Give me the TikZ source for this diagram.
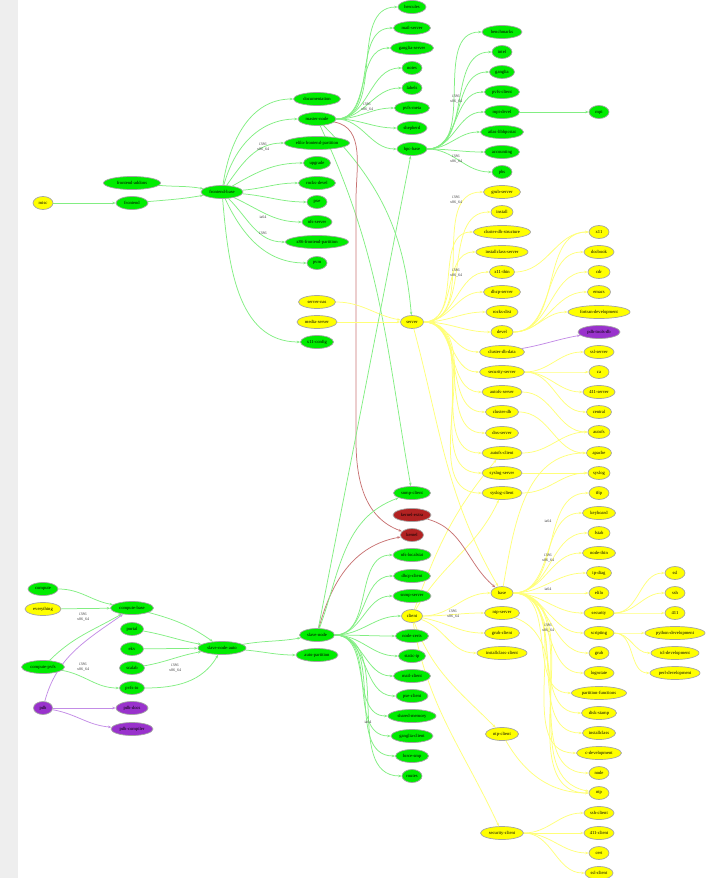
\documentclass[tikz,border=0pt]{standalone}
\usepackage{fontspec}
\setmainfont{Liberation Serif}
\usetikzlibrary{shapes.geometric,arrows.meta,backgrounds}
\definecolor{ngreen}{RGB}{0,236,0}
\definecolor{nyellow}{RGB}{255,255,0}
\definecolor{npurple}{RGB}{153,50,204}
\definecolor{nred}{RGB}{178,34,34}
\definecolor{egreen}{RGB}{130,238,130}
\definecolor{eyellow}{RGB}{255,255,120}
\definecolor{epurple}{RGB}{195,140,230}
\definecolor{ered}{RGB}{200,115,115}
\definecolor{nborder}{RGB}{165,165,165}
\definecolor{strip}{RGB}{238,238,238}
\tikzset{
 nd/.style={ellipse, draw=nborder, line width=0.7pt, minimum height=13pt, minimum width=20pt, inner sep=0pt, font=\fontsize{4.6}{5}\selectfont},
 gn/.style={nd, fill=ngreen}, yn/.style={nd, fill=nyellow}, pn/.style={nd, fill=npurple}, rn/.style={nd, fill=nred},
 mw/.style={minimum width=#1pt},
 ed/.style={line width=0.75pt, -{Stealth[length=3.4pt,width=2.6pt]}},
 ge/.style={ed, draw=egreen}, ye/.style={ed, draw=eyellow},
 pe/.style={ed, draw=epurple}, re/.style={ed, draw=ered},
 lbl/.style={font=\fontsize{4}{4.4}\selectfont, align=center, text=black!75, inner sep=0pt},
}
\begin{document}
\begin{tikzpicture}[x=1pt,y=-1pt]
\useasboundingbox (0,0) rectangle (709,878);
% ---------- left ----------
\node[yn,mw=20] (misc) at (43,203) {misc};
\node[gn,mw=57] (frontend-addons) at (132,183) {frontend-addons};
\node[gn,mw=32] (frontend) at (132,203) {frontend};
\node[gn,mw=42] (frontend-base) at (222,192) {frontend-base};
\node[gn,mw=47] (documentation) at (317,99) {documentation};
\node[gn,mw=38] (master-node) at (317,119) {master-node};
\node[gn,mw=65] (elilo-fp) at (317,143) {elilo-frontend-partition};
\node[gn,mw=27] (upgrade) at (317,163) {upgrade};
\node[gn,mw=37] (rocks-devel) at (317,183) {rocks-devel};
\node[gn,mw=20] (pxe) at (317,202) {pxe};
\node[gn,mw=30] (nfs-server) at (317,222) {nfs-server};
\node[gn,mw=63] (x86-fp) at (317,242) {x86-frontend-partition};
\node[gn,mw=20] (pvm) at (317,263) {pvm};
\node[yn,mw=37] (server-nas) at (317,302) {server-nas};
\node[yn,mw=40] (media-server) at (317,322) {media-server};
\node[gn,mw=33] (x11-config) at (317,342) {x11-config};
% master-node column
\node[gn,mw=28] (hercules) at (412,7) {hercules};
\node[gn,mw=37] (mail-server) at (412,28) {mail-server};
\node[gn,mw=43] (ganglia-server) at (412,48) {ganglia-server};
\node[gn,mw=20] (notes) at (412,68) {notes};
\node[gn,mw=20] (labels) at (412,88) {labels};
\node[gn,mw=35] (pvfs-meta) at (412,108) {pvfs-meta};
\node[gn,mw=30] (shepherd) at (412,128) {shepherd};
\node[gn,mw=30] (hpc-base) at (412,149) {hpc-base};
\node[yn,mw=23] (server) at (412,322) {server};
% hpc-base column
\node[gn,mw=40] (benchmarks) at (502,32) {benchmarks};
\node[gn,mw=20] (intel) at (502,52) {intel};
\node[gn,mw=25] (ganglia) at (502,72) {ganglia};
\node[gn,mw=35] (pvfs-client) at (502,92) {pvfs-client};
\node[gn,mw=35] (mpi-devel) at (502,112) {mpi-devel};
\node[gn,mw=43] (atlas) at (502,132) {atlas-libhpcstat};
\node[gn,mw=35] (accounting) at (502,152) {accounting};
\node[gn,mw=20] (pbs) at (502,172) {pbs};
\node[gn,mw=20] (mpi) at (599,112) {mpi};
% server column
\node[yn,mw=37] (grub-server) at (502,192) {grub-server};
\node[yn,mw=22] (install) at (502,212) {install};
\node[yn,mw=57] (cluster-db-structure) at (502,232) {cluster-db-structure};
\node[yn,mw=52] (installclass-server) at (502,252) {installclass-server};
\node[yn,mw=25] (x11-thin) at (502,272) {x11-thin};
\node[yn,mw=37] (dhcp-server) at (502,292) {dhcp-server};
\node[yn,mw=32] (rocks-dist) at (502,312) {rocks-dist};
\node[yn,mw=22] (devel) at (502,332) {devel};
\node[yn,mw=45] (cluster-db-data) at (502,352) {cluster-db-data};
\node[yn,mw=45] (security-server) at (502,372) {security-server};
\node[yn,mw=40] (autofs-server) at (502,392) {autofs-server};
\node[yn,mw=33] (cluster-db) at (502,412) {cluster-db};
\node[yn,mw=33] (dns-server) at (502,433) {dns-server};
\node[yn,mw=40] (autofs-client) at (502,453) {autofs-client};
\node[yn,mw=40] (syslog-server) at (502,473) {syslog-server};
\node[yn,mw=40] (syslog-client) at (502,493) {syslog-client};
\node[yn,mw=22] (base) at (502,593) {base};
\node[yn,mw=35] (ntp-server) at (502,613) {ntp-server};
\node[yn,mw=35] (grub-client) at (502,633) {grub-client};
\node[yn,mw=50] (installclass-client) at (502,653) {installclass-client};
\node[yn,mw=33] (ntp-client) at (502,734) {ntp-client};
\node[yn,mw=43] (security-client) at (502,833) {security-client};
% right column
\node[yn,mw=20] (x11) at (599,232) {x11};
\node[yn,mw=30] (docbook) at (599,252) {docbook};
\node[yn,mw=22] (cdr) at (599,272) {cdr};
\node[yn,mw=23] (emacs) at (599,292) {emacs};
\node[yn,mw=62] (fortran-development) at (599,312) {fortran-development};
\node[pn,mw=42] (pdb-tools-db) at (599,332) {pdb-tools-db};
\node[yn,mw=30] (ssl-server) at (599,352) {ssl-server};
\node[yn,mw=20] (ca) at (599,372) {ca};
\node[yn,mw=32] (n411s) at (599,392) {411-server};
\node[yn,mw=25] (central) at (599,412) {central};
\node[yn,mw=22] (autofs) at (599,432) {autofs};
\node[yn,mw=25] (apache) at (599,453) {apache};
\node[yn,mw=22] (syslog) at (599,473) {syslog};
\node[yn,mw=20] (tftp) at (599,493) {tftp};
\node[yn,mw=33] (keyboard) at (599,513) {keyboard};
\node[yn,mw=22] (fstab) at (599,533) {fstab};
\node[yn,mw=33] (node-thin) at (599,553) {node-thin};
\node[yn,mw=25] (ip-diag) at (599,573) {ip-diag};
\node[yn,mw=20] (elilo) at (599,593) {elilo};
\node[yn,mw=30] (security) at (599,613) {security};
\node[yn,mw=30] (scripting) at (599,633) {scripting};
\node[yn,mw=20] (grub) at (599,653) {grub};
\node[yn,mw=30] (logrotate) at (599,673) {logrotate};
\node[yn,mw=55] (partition-functions) at (599,693) {partition-functions};
\node[yn,mw=35] (disk-stamp) at (599,713) {disk-stamp};
\node[yn,mw=33] (installclass) at (599,733) {installclass};
\node[yn,mw=45] (c-development) at (599,753) {c-development};
\node[yn,mw=20] (node) at (599,773) {node};
\node[yn,mw=20] (ntp) at (599,793) {ntp};
\node[yn,mw=30] (ssh-client) at (599,813) {ssh-client};
\node[yn,mw=30] (n411c) at (599,833) {411-client};
\node[yn,mw=20] (cert) at (599,853) {cert};
\node[yn,mw=28] (ssl-client) at (599,873) {ssl-client};
\node[yn,mw=20] (ssl) at (675,573) {ssl};
\node[yn,mw=20] (ssh) at (675,593) {ssh};
\node[yn,mw=20] (n411) at (675,613) {411};
\node[yn,mw=60] (python-development) at (675,633) {python-development};
\node[yn,mw=48] (tcl-development) at (675,653) {tcl-development};
\node[yn,mw=50] (perl-development) at (675,673) {perl-development};
% slave-node column
\node[gn,mw=37] (snmp-client) at (412,493) {snmp-client};
\node[rn,mw=38] (kernel-extra) at (412,515) {kernel-extra};
\node[rn,mw=23] (kernel) at (412,535) {kernel};
\node[gn,mw=38] (nfs-localstat) at (412,555) {nfs-localstat};
\node[gn,mw=37] (dhcp-client) at (412,576) {dhcp-client};
\node[gn,mw=38] (snmp-server) at (412,596) {snmp-server};
\node[yn,mw=21] (client) at (412,616) {client};
\node[gn,mw=33] (node-certs) at (412,636) {node-certs};
\node[gn,mw=27] (static-ip) at (412,656) {static-ip};
\node[gn,mw=37] (mail-client) at (412,676) {mail-client};
\node[gn,mw=32] (pxe-client) at (412,696) {pxe-client};
\node[gn,mw=48] (shared-memory) at (412,716) {shared-memory};
\node[gn,mw=42] (ganglia-client) at (412,736) {ganglia-client};
\node[gn,mw=33] (force-smp) at (412,756) {force-smp};
\node[gn,mw=20] (routes) at (412,776) {routes};
\node[gn,mw=35] (slave-node) at (317,635) {slave-node};
\node[gn,mw=42] (auto-partition) at (317,655) {auto-partition};
% bottom left
\node[gn,mw=30] (compute) at (43,589) {compute};
\node[yn,mw=36] (everything) at (43,609) {everything};
\node[gn,mw=43] (compute-base) at (132,608) {compute-base};
\node[gn,mw=23] (portal) at (132,629) {portal};
\node[gn,mw=23] (ekv) at (132,649) {ekv};
\node[gn,mw=25] (scalab) at (132,668) {scalab};
\node[gn,mw=25] (pvfs-io) at (132,688) {pvfs-io};
\node[gn,mw=43] (compute-pvfs) at (43,667) {compute-pvfs};
\node[pn,mw=19] (pdb) at (43,708) {pdb};
\node[pn,mw=32] (pdb-docs) at (132,708) {pdb-docs};
\node[pn,mw=42] (pdb-compiler) at (132,729) {pdb-compiler};
\node[gn,mw=48] (slave-node-auto) at (222,648) {slave-node-auto};
% edge labels
\node[lbl] (l1) at (263,147) {i386\\x86\_64};
\node[lbl] (l2) at (263,217) {ia64};
\node[lbl] (l3) at (263,233) {i386};
\node[lbl] (l4) at (367,107) {i386\\x86\_64};
\node[lbl] (l5) at (456,99) {i386\\x86\_64};
\node[lbl] (l6) at (456,159) {i386\\x86\_64};
\node[lbl] (l7) at (456,200) {i386\\x86\_64};
\node[lbl] (l8) at (456,273) {i386\\x86\_64};
\node[lbl] (l9) at (453,614) {i386\\x86\_64};
\node[lbl] (l10) at (368,722) {ia64};
\node[lbl] (l11) at (548,521) {ia64};
\node[lbl] (l12) at (548,558) {i386\\x86\_64};
\node[lbl] (l13) at (548,589) {ia64};
\node[lbl] (l14) at (548,628) {i386\\x86\_64};
\node[lbl] (l15) at (83,617) {i386\\x86\_64};
\node[lbl] (l16) at (83,667) {i386\\x86\_64};
\node[lbl] (l17) at (175,668) {i386\\x86\_64};
% ---------- edges ----------
\begin{scope}[on background layer]
\fill[strip] (0,0) rectangle (18,878);
\draw[ge] (misc) -- (frontend);
\draw[ge] (frontend-addons) to[out=-5,in=170] (frontend-base);
\draw[ge] (frontend) to[out=5,in=190] (frontend-base);
\draw[ge] (frontend-base) to[out=82,in=180] (documentation);
\draw[ge] (frontend-base) to[out=75,in=180] (master-node);
\draw[ge] (frontend-base) to[out=55,in=180] (elilo-fp);
\draw[ge] (frontend-base) to[out=30,in=180] (upgrade);
\draw[ge] (frontend-base) to[out=5,in=180] (rocks-devel);
\draw[ge] (frontend-base) to[out=-5,in=180] (pxe);
\draw[ge] (frontend-base) to[out=-25,in=180] (nfs-server);
\draw[ge] (frontend-base) to[out=-45,in=180] (x86-fp);
\draw[ge] (frontend-base) to[out=-65,in=180] (pvm);
\draw[ge] (frontend-base) to[out=-85,in=180] (x11-config);
\foreach \t in {hercules,mail-server,ganglia-server,notes,labels,pvfs-meta,shepherd,hpc-base}
  \draw[ge] (master-node) to[out=0,in=180] (\t);
\draw[ge] (master-node) to[out=-45,in=95] (server);
\draw[ge] (master-node) to[out=-65,in=100] (snmp-client);
\draw[re] (master-node) to[out=-10,in=90] (356,200) -- (356,440) to[out=-90,in=160] (kernel);
\foreach \t in {benchmarks,intel,ganglia,pvfs-client,mpi-devel,atlas,accounting,pbs}
  \draw[ge] (hpc-base) to[out=0,in=180] (\t);
\draw[ge] (mpi-devel) -- (mpi);
\draw[ye] (server-nas) to[out=0,in=170] (server);
\draw[ye] (media-server) -- (server);
\foreach \t in {grub-server,install,cluster-db-structure,installclass-server,x11-thin,dhcp-server,rocks-dist,devel,cluster-db-data,security-server,autofs-server,cluster-db,dns-server,autofs-client,syslog-server,syslog-client}
  \draw[ye] (server) to[out=0,in=180] (\t);
\draw[ye] (server) to[out=-75,in=120] (base);
\foreach \t in {x11,docbook,cdr,emacs,fortran-development}
  \draw[ye] (devel) to[out=0,in=180] (\t);
\draw[ye] (x11-thin) to[out=0,in=180] (x11);
\draw[pe] (cluster-db-data) to[out=10,in=190] (pdb-tools-db);
\foreach \t in {ssl-server,ca,n411s,central}
  \draw[ye] (security-server) to[out=0,in=180] (\t);
\draw[ye] (autofs-server) to[out=0,in=180] (autofs);
\draw[ye] (cluster-db) to[out=0,in=180] (apache);
\draw[ye] (autofs-client) to[out=0,in=180] (autofs);
\draw[ye] (syslog-server) -- (syslog);
\draw[ye] (syslog-client) to[out=0,in=180] (syslog);
\draw[ye] (base) to[out=80,in=180] (apache);
\foreach \t in {tftp,keyboard,fstab,node-thin,ip-diag,elilo,security,scripting,grub,logrotate,partition-functions,disk-stamp,installclass,c-development,node,ntp}
  \draw[ye] (base) to[out=0,in=180] (\t);
\foreach \t in {ssl,ssh,n411}
  \draw[ye] (security) to[out=0,in=180] (\t);
\foreach \t in {python-development,tcl-development,perl-development}
  \draw[ye] (scripting) to[out=0,in=180] (\t);
\draw[ye] (client) to[out=0,in=180] (base);
\draw[ye] (client) to[out=0,in=180] (ntp-server);
\draw[ye] (client) to[out=-10,in=180] (grub-client);
\draw[ye] (client) to[out=-20,in=180] (installclass-client);
\draw[ye] (client) to[out=-70,in=135] (ntp-client);
\draw[ye] (client) to[out=-80,in=115] (security-client);
\draw[ye] (client) to[out=60,in=-115] (syslog-client);
\draw[ye] (client) to[out=70,in=-130] (autofs-client);
\draw[ye] (ntp-server) to[out=-20,in=170] (ntp);
\draw[ye] (ntp-client) to[out=-60,in=180] (ntp);
\foreach \t in {ssh-client,n411c,cert,ssl-client}
  \draw[ye] (security-client) to[out=0,in=180] (\t);
\draw[re] (kernel-extra) to[out=-15,in=140] (base);
\draw[re] (slave-node) to[out=75,in=190] (kernel);
\draw[ge] (slave-node) -- (hpc-base);
\draw[ge] (slave-node) to[out=70,in=200] (snmp-client);
\foreach \t in {nfs-localstat,dhcp-client,snmp-server,client,node-certs,static-ip,mail-client,pxe-client,shared-memory,ganglia-client,force-smp,routes}
  \draw[ge] (slave-node) to[out=0,in=180] (\t);
\draw[ge] (compute) to[out=0,in=170] (compute-base);
\draw[ge] (everything) -- (compute-base);
\draw[ge] (compute-pvfs) to[out=45,in=210] (compute-base);
\draw[ge] (compute-pvfs) to[out=-10,in=180] (pvfs-io);
\draw[pe] (pdb) to[out=75,in=215] (compute-base);
\draw[pe] (pdb) -- (pdb-docs);
\draw[pe] (pdb) to[out=-10,in=175] (pdb-compiler);
\draw[ge] (compute-base) to[out=-15,in=145] (slave-node-auto);
\draw[ge] (portal) to[out=-10,in=170] (slave-node-auto);
\draw[ge] (ekv) -- (slave-node-auto);
\draw[ge] (scalab) to[out=10,in=190] (slave-node-auto);
\draw[ge] (pvfs-io) to[out=0,in=-120] (slave-node-auto);
\draw[ge] (slave-node-auto) to[out=10,in=190] (slave-node);
\draw[ge] (slave-node-auto) to[out=-5,in=180] (auto-partition);
\end{scope}
\end{tikzpicture}
\end{document}
